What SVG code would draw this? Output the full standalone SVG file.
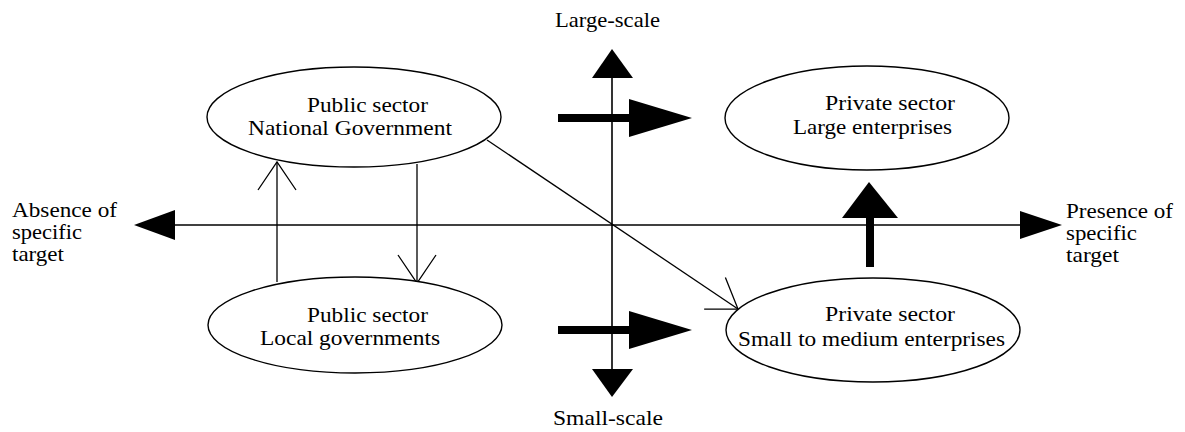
<svg xmlns="http://www.w3.org/2000/svg" width="1185" height="432" viewBox="0 0 1185 432">
  <style>
    .node ellipse { fill: #ffffff; stroke: #000000; stroke-width: 1.4; }
    .axis { stroke: #000000; stroke-width: 1.6; fill: none; }
    .thin { stroke: #000000; stroke-width: 1.3; fill: none; marker-end: url(#open); }
    .solid { fill: #000000; stroke: none; }
  </style>
  <defs>
    <marker id="open" markerUnits="userSpaceOnUse" viewBox="-32 -24 36 48" refX="0" refY="0" markerWidth="36" markerHeight="48" orient="auto" overflow="visible">
      <path d="M-28,-19 L0,0 L-28,19" fill="none" stroke="#000000" stroke-width="1.3"/>
    </marker>
  </defs>
  <rect width="1185" height="432" fill="#ffffff"/>

  <!-- axes, block arrows and flow arrows -->
  <g id="connectors">
    <!-- horizontal axis: target specificity -->
    <line class="axis" x1="175" y1="225" x2="1020" y2="225"/>
    <polygon class="solid" points="134,225 175,210 175,240"/>
    <polygon class="solid" points="1062,225 1020,211 1020,239"/>
    <!-- vertical axis: scale -->
    <line class="axis" x1="612" y1="78" x2="612" y2="369"/>
    <polygon class="solid" points="612,49 592,78 633,78"/>
    <polygon class="solid" points="612,397 592,369 633,369"/>
    <!-- block arrow, upper -->
    <rect class="solid" x="558" y="114" width="72" height="8"/>
    <polygon class="solid" points="629,99 692,118 629,137"/>
    <!-- block arrow, lower -->
    <rect class="solid" x="558" y="326" width="72" height="8"/>
    <polygon class="solid" points="629,311 692,330 629,349"/>
    <!-- block arrow, SMEs up to large enterprises -->
    <rect class="solid" x="866" y="216" width="8" height="51"/>
    <polygon class="solid" points="869,182 842,218 898,218"/>
    <!-- thin flows between sectors -->
    <line class="thin" x1="277" y1="282" x2="277" y2="162"/>
    <line class="thin" x1="417" y1="164" x2="417" y2="283"/>
    <line class="thin" x1="487" y1="140" x2="738" y2="309"/>
  </g>

  <g font-family="Liberation Serif, Times New Roman, serif" font-size="21" fill="#000000">
    <g id="node-national" class="node">
      <ellipse cx="354" cy="117" rx="147" ry="50"/>
      <text x="307" y="112" textLength="121" lengthAdjust="spacingAndGlyphs">Public sector</text>
      <text x="248" y="135" textLength="204" lengthAdjust="spacingAndGlyphs">National Government</text>
    </g>

    <g id="node-large" class="node">
      <ellipse cx="867" cy="118" rx="142" ry="52"/>
      <text x="825" y="110" textLength="130" lengthAdjust="spacingAndGlyphs">Private sector</text>
      <text x="793" y="134" textLength="159" lengthAdjust="spacingAndGlyphs">Large enterprises</text>
    </g>

    <g id="node-local" class="node">
      <ellipse cx="355" cy="325" rx="147" ry="48"/>
      <text x="307" y="322" textLength="121" lengthAdjust="spacingAndGlyphs">Public sector</text>
      <text x="260" y="345" textLength="180" lengthAdjust="spacingAndGlyphs">Local governments</text>
    </g>

    <g id="node-sme" class="node">
      <ellipse cx="873" cy="330" rx="147" ry="52"/>
      <text x="825" y="321" textLength="130" lengthAdjust="spacingAndGlyphs">Private sector</text>
      <text x="738" y="346" textLength="267" lengthAdjust="spacingAndGlyphs">Small to medium enterprises</text>
    </g>

    <g id="axis-labels">
      <text x="555" y="27" textLength="105" lengthAdjust="spacingAndGlyphs">Large-scale</text>
      <text x="553" y="425" textLength="110" lengthAdjust="spacingAndGlyphs">Small-scale</text>
      <text x="12" y="217" textLength="105" lengthAdjust="spacingAndGlyphs">Absence of</text>
      <text x="12" y="239" textLength="70" lengthAdjust="spacingAndGlyphs">specific</text>
      <text x="12" y="261" textLength="52" lengthAdjust="spacingAndGlyphs">target</text>
      <text x="1066" y="218" textLength="107" lengthAdjust="spacingAndGlyphs">Presence of</text>
      <text x="1066" y="240" textLength="71" lengthAdjust="spacingAndGlyphs">specific</text>
      <text x="1066" y="262" textLength="53" lengthAdjust="spacingAndGlyphs">target</text>
    </g>
  </g>
</svg>
